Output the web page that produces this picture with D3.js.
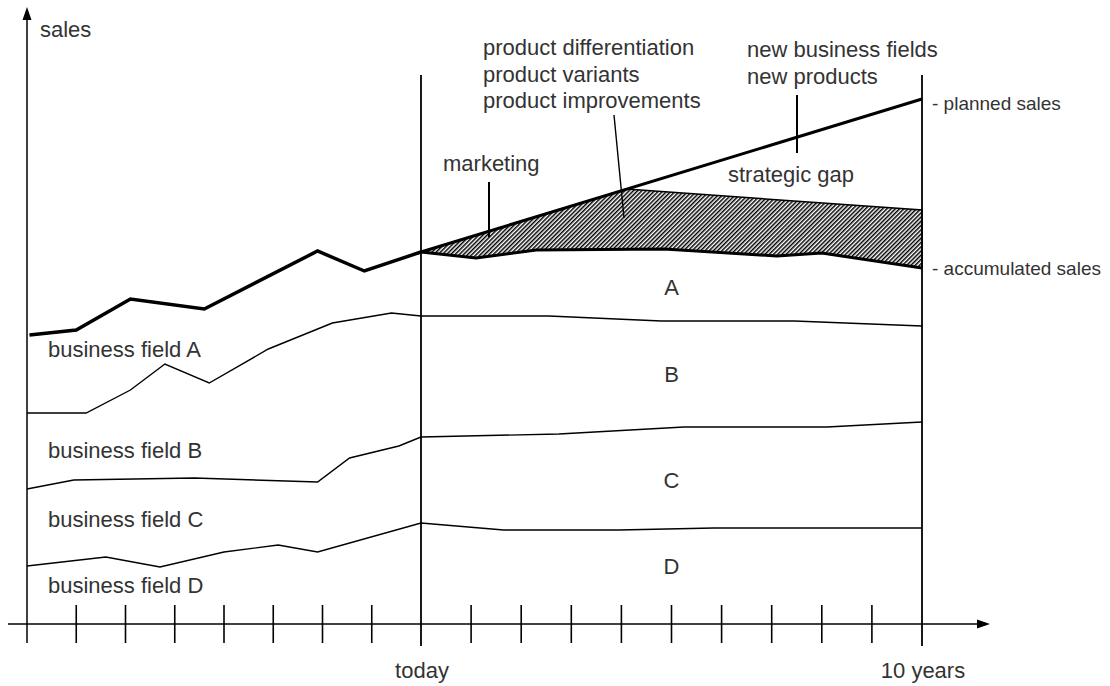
<!DOCTYPE html>
<html>
<head>
<meta charset="utf-8">
<script src="https://cdnjs.cloudflare.com/ajax/libs/d3/7.8.5/d3.min.js"></script>
<style>
  html, body { margin: 0; padding: 0; background: #fff; }
  text { font-family: "Liberation Sans", Arial, sans-serif; font-size: 22px; fill: #333; }
  text.side { font-size: 19px; }
</style>
</head>
<body>
<svg id="chart" width="1110" height="686"></svg>
<script>
// years relative to today, sales in arbitrary units

// accumulated sales, past (thick line)
var accPastT = [-7.95, -7, -5.9, -4.4, -2.1, -1.15, 0];
var accPastV = [289, 294, 325, 315, 373, 353, 372];
// accumulated sales, forecast
var accFutT = [0, 1.1, 2.3, 4.85, 7.1, 8.0, 10];
var accFutV = [372, 366, 374, 375, 368, 371, 356];
// planned sales
var plannedT = [0, 10];
var plannedV = [372, 525];
// upper edge of hatched area (product measures)
var productT = [0, 4.1, 10];
var productV = [372, 435, 414];

// business field boundaries
var abT = [-8, -6.8, -5.9, -5.2, -4.3, -3.1, -1.8, -0.6, 0, 2.55, 4.8, 7.45, 10];
var abV = [211, 211, 234, 260, 241, 275, 301, 311, 308, 308, 303, 303, 298];
var bcT = [-8, -7.05, -4.6, -2.1, -1.45, -0.45, 0, 2.75, 5.25, 8.1, 10];
var bcV = [135, 144, 146, 142, 166, 178, 187, 190, 197, 197, 202];
var cdT = [-8, -6.4, -5.3, -4.0, -2.9, -2.1, 0, 1.65, 3.95, 5.85, 10];
var cdV = [58, 67, 57, 72, 79, 72, 101, 94, 94, 96, 96];

var tickYears = d3.range(-7, 10).filter(function(d){ return d !== 0; });
var markerYears = [0, 10];
var markerLabels = ["today", "10 years"];
var fieldLabels = ["business field A", "business field B", "business field C", "business field D"];
var zoneLabels = ["A", "B", "C", "D"];

var svg = d3.select("#chart");

var x = d3.scaleLinear().domain([-8, 0, 10]).range([27, 421, 922]);
var y = d3.scaleLinear().domain([0, 616]).range([624, 8]);

function pts(T, V){ return T.map(function(t, i){ return [t, V[i]]; }); }
var line = d3.line().x(function(d){ return x(d[0]); }).y(function(d){ return y(d[1]); });

// hatch pattern
var defs = svg.append("defs");
defs.append("pattern")
    .attr("id", "hatch")
    .attr("patternUnits", "userSpaceOnUse")
    .attr("width", 3).attr("height", 3)
    .attr("patternTransform", "rotate(45)")
  .append("rect")
    .attr("x", 0).attr("y", 0).attr("width", 1.5).attr("height", 3)
    .attr("fill", "#000");

// strategic gap area filled by product measures
var gapPoly = pts(productT, productV).concat(pts(accFutT, accFutV).reverse());
svg.append("path")
    .attr("d", line(gapPoly) + "Z")
    .attr("fill", "url(#hatch)")
    .attr("stroke", "#000")
    .attr("stroke-width", 1.5);

// axes
var axisG = svg.append("g").attr("stroke", "#000");
axisG.append("line").attr("x1", x(-8)).attr("x2", x(-8)).attr("y1", 14).attr("y2", 643).attr("stroke-width", 1.5);
axisG.append("line").attr("x1", 8).attr("x2", 982).attr("y1", y(0)).attr("y2", y(0)).attr("stroke-width", 1.5);
svg.append("path").attr("d", d3.line()([[x(-8) - 4.5, 20], [x(-8), 7], [x(-8) + 4.5, 20]]) + "Z").attr("fill", "#000");
svg.append("path").attr("d", d3.line()([[977, y(0) - 4.5], [990, y(0)], [977, y(0) + 4.5]]) + "Z").attr("fill", "#000");

axisG.selectAll(".tick").data(tickYears).enter().append("line")
    .attr("x1", function(d){ return x(d); }).attr("x2", function(d){ return x(d); })
    .attr("y1", 605).attr("y2", 643).attr("stroke-width", 1.6);

axisG.selectAll(".marker").data(markerYears).enter().append("line")
    .attr("x1", function(d){ return x(d); }).attr("x2", function(d){ return x(d); })
    .attr("y1", 75).attr("y2", 646).attr("stroke-width", 1.8);

svg.selectAll(".mlabel").data(markerYears).enter().append("text")
    .attr("x", function(d){ return x(d) + 1; }).attr("y", 678)
    .attr("text-anchor", "middle")
    .text(function(d, i){ return markerLabels[i]; });

// boundary lines
[[abT, abV], [bcT, bcV], [cdT, cdV]].forEach(function(s){
  svg.append("path").attr("d", line(pts(s[0], s[1])))
     .attr("fill", "none").attr("stroke", "#000").attr("stroke-width", 1.4);
});

// thick lines
svg.append("path").attr("d", line(pts(accPastT, accPastV)))
   .attr("fill", "none").attr("stroke", "#000").attr("stroke-width", 3.5).attr("stroke-linejoin", "miter");
svg.append("path").attr("d", line(pts(accFutT, accFutV)))
   .attr("fill", "none").attr("stroke", "#000").attr("stroke-width", 3);
svg.append("path").attr("d", line(pts(plannedT, plannedV)))
   .attr("fill", "none").attr("stroke", "#000").attr("stroke-width", 3);

// callout lines
svg.append("line").attr("x1", 489).attr("x2", 489).attr("y1", 182).attr("y2", 237).attr("stroke", "#000").attr("stroke-width", 2);
svg.append("line").attr("x1", 614).attr("x2", 624).attr("y1", 115).attr("y2", 218).attr("stroke", "#000").attr("stroke-width", 1.4);
svg.append("line").attr("x1", 797).attr("x2", 797).attr("y1", 95).attr("y2", 153).attr("stroke", "#000").attr("stroke-width", 2);

// texts
svg.append("text").attr("x", 40).attr("y", 37).text("sales");

var prod = svg.append("text").attr("x", 483).attr("y", 55);
["product differentiation", "product variants", "product improvements"].forEach(function(s, i){
  prod.append("tspan").attr("x", 483).attr("dy", i ? 26.5 : 0).text(s);
});
var nb = svg.append("text").attr("x", 747).attr("y", 57);
["new business fields", "new products"].forEach(function(s, i){
  nb.append("tspan").attr("x", 747).attr("dy", i ? 26.5 : 0).text(s);
});
svg.append("text").attr("x", 443).attr("y", 171).text("marketing");
svg.append("text").attr("x", 728).attr("y", 182).text("strategic gap");
svg.append("text").attr("class", "side").attr("x", 932).attr("y", 110).text("- planned sales");
svg.append("text").attr("class", "side").attr("x", 932).attr("y", 275).text("- accumulated sales");

var fieldY = [357, 458, 527, 593];
svg.selectAll(".field").data(fieldLabels).enter().append("text")
    .attr("x", 48).attr("y", function(d, i){ return fieldY[i]; })
    .text(function(d){ return d; });

var zoneY = [295, 382, 488, 574];
svg.selectAll(".zone").data(zoneLabels).enter().append("text")
    .attr("x", x(5)).attr("y", function(d, i){ return zoneY[i]; })
    .attr("text-anchor", "middle")
    .text(function(d){ return d; });
</script>
</body>
</html>
